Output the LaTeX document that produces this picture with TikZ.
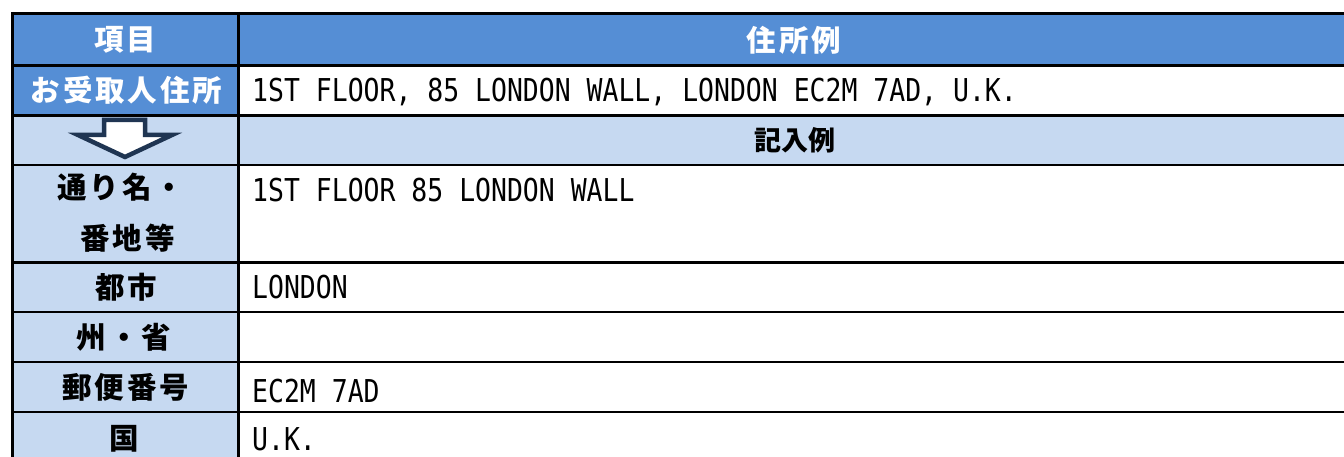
\documentclass[tikz,border=0pt]{standalone}
\usepackage{fontspec}
\newfontfamily\jp[LetterSpace=10]{Noto Sans CJK JP}
\newfontfamily\jpx{Noto Sans CJK JP}
\newfontfamily\mono[FakeStretch=0.84]{DejaVu Sans Mono}
\definecolor{hdr}{RGB}{85,142,213}
\definecolor{lite}{RGB}{198,217,241}
\definecolor{navy}{RGB}{31,53,82}
\tikzset{
 jlab/.style={font=\jp\bfseries\fontsize{29.5}{30}\selectfont, inner sep=0pt, anchor=center},
 jwhite/.style={jlab, text=white},
 jsmall/.style={inner sep=0pt, anchor=center, font=\jpx\bfseries\fontsize{27}{28}\selectfont},
 val/.style={font=\mono\fontsize{31.5}{32}\selectfont, inner sep=0pt, anchor=base west},
 rule/.style={line width=2.2pt},
 arrowshape/.style={draw=navy, fill=white, line width=4.5pt, line join=miter},
}
\begin{document}
\begin{tikzpicture}[x=1pt,y=-1pt]
\useasboundingbox (0,0) rectangle (1344,457);
\begin{scope}
\clip (0,0) rectangle (1344,457);
% fills
\fill[hdr] (12,13.5) rectangle (1350,65.5);
\fill[hdr] (12,65.5) rectangle (238.5,115.5);
\fill[lite] (12,115.5) rectangle (1350,164.7);
\fill[lite] (12,164.7) rectangle (238.5,470);
% rules
\foreach \y in {65.5,115.5,164.7,262.5,312,362,412} \draw[rule] (11,\y) -- (1350,\y);
\draw[line width=3pt] (11,13.5) -- (1350,13.5);
\draw[line width=3pt] (12.5,12) -- (12.5,470);
\draw[line width=3.5pt] (238.5,12) -- (238.5,470);
% arrow
\draw[arrowshape] (104,120) -- (145,120) -- (145,135) -- (172,135) -- (125,157) -- (78,135) -- (104,135) -- cycle;
% texts
\node[jwhite] (h1) at (125.5,40) {項目};
\node[jwhite] (h2) at (794,40) {住所例};
\node[jwhite] (r1) at (126.5,90.5) {お受取人住所};
\node[val] (v1) at (252,102) {1ST FLOOR, 85 LONDON WALL, LONDON EC2M 7AD, U.K.};
\node[jsmall] (ex) at (795,140) {記入例};
\node[jlab] (r2a) at (121,187) {通り名・};
\node[jlab] (r2b) at (127.5,238.5) {番地等};
\node[val] (v2) at (252,202) {1ST FLOOR 85 LONDON WALL};
\node[jlab] (r3) at (126.5,287.5) {都市};
\node[val] (v3) at (252,298) {LONDON};
\node[jlab] (r4) at (124,337) {州・省};
\node[jlab] (r5) at (126,387) {郵便番号};
\node[val] (v5) at (252,402) {EC2M 7AD};
\node[jlab] (r6) at (124,438.5) {国};
\node[val] (v6) at (252,450) {U.K.};
\end{scope}
\end{tikzpicture}
\end{document}
